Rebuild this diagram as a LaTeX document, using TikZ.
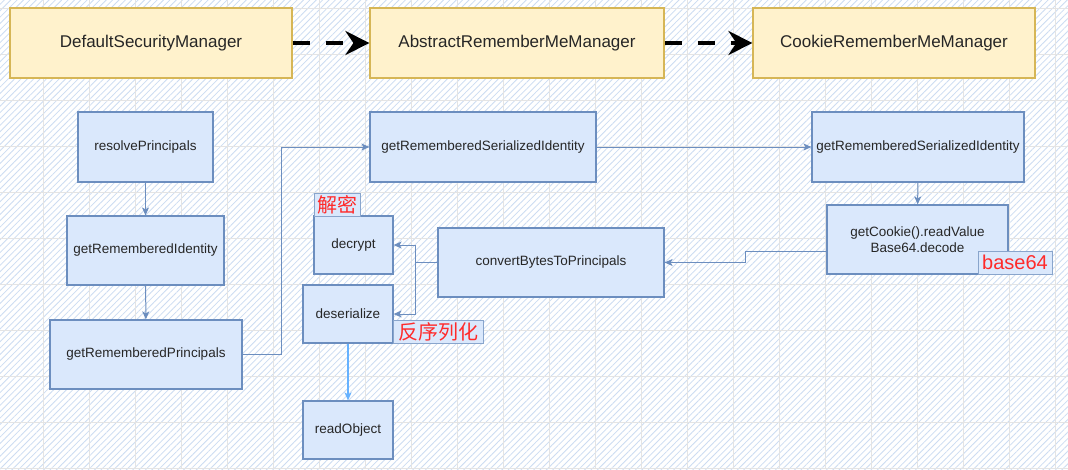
\documentclass[tikz,border=0pt]{standalone}
\usepackage{fontspec}
\setmainfont{Liberation Sans}
\newfontfamily\cjk{Noto Sans CJK SC}
\usetikzlibrary{arrows.meta,patterns.meta}

\definecolor{yellowfill}{HTML}{FFF2CC}
\definecolor{yellowdraw}{HTML}{D6B656}
\definecolor{bluefill}{HTML}{DAE8FC}
\definecolor{bluedraw}{HTML}{6C8EBF}
\definecolor{lightarrow}{HTML}{66B2FF}
\definecolor{notered}{HTML}{FF2A2A}
\definecolor{gridline}{HTML}{E4E4E4}
\definecolor{hatch}{HTML}{CCDCF2}

\tikzstyle{manager} = [draw=yellowdraw,fill=yellowfill,line width=1.2pt,inner sep=0pt,text=black!85,font=\fontsize{17}{20}\selectfont]
\tikzstyle{method} = [draw=bluedraw,fill=bluefill,line width=1.2pt,inner sep=0pt,align=center,text=black!85,font=\fontsize{13.5}{16.5}\selectfont]
\tikzstyle{note} = [draw=bluedraw!80,fill=bluefill,line width=0.8pt,inner sep=0pt,text=notered,font=\fontsize{20}{22}\selectfont]
\tikzstyle{inherit} = [draw,line width=4pt,dash pattern=on 17pt off 16pt,-{Stealth[length=24pt,width=24pt,inset=8pt]}]
\tikzstyle{call} = [draw=bluedraw,line width=1pt,-{Stealth[length=8pt,width=7pt,inset=2pt]}]
\tikzstyle{lightcall} = [draw=lightarrow,line width=1.2pt,-{Stealth[length=8pt,width=7pt,inset=2pt]}]

\begin{document}
\begin{tikzpicture}[x=1pt,y=-1pt]
      \useasboundingbox (0,0) rectangle (1068,469);
      %background
      \fill[white] (0,0) rectangle (1068,469);
      \fill[pattern={Lines[angle=45,distance=4.5pt,line width=0.8pt]},pattern color=hatch] (0,0) rectangle (1068,469);
      \foreach \gx in {43,89,...,1068}
        \draw[gridline] (\gx,0) -- (\gx,469);
      \foreach \gy in {8,54,...,469}
        \draw[gridline] (0,\gy) -- (1068,\gy);
      %managers
      \foreach \nodename/\x/\y/\w/\text in {
        dsm/151/43/282/DefaultSecurityManager,
        arm/517/43/294/AbstractRememberMeManager,
        crm/894/43/282/CookieRememberMeManager}
      {
        \node[manager, minimum width=\w pt, minimum height=70pt] (\nodename) at (\x,\y) {\text};
      };
      %methods
      \foreach \nodename/\x/\y/\w/\h/\text in {
        resolve/145.5/147/135/70/resolvePrincipals,
        getid/145.5/250.5/157/69/getRememberedIdentity,
        getprin/146/354.5/192/69/getRememberedPrincipals,
        sermid/483/147/226/70/getRememberedSerializedIdentity,
        serright/918/147/212/70/getRememberedSerializedIdentity,
        cookie/917.5/239.5/181/69/{getCookie().readValue\\Base64.decode},
        convert/551/262.5/226/69/convertBytesToPrincipals,
        decrypt/353.5/245/79/58/decrypt,
        deser/348/314/90/58/deserialize,
        readobj/348/430/90/58/readObject}
      {
        \node[method, minimum width=\w pt, minimum height=\h pt] (\nodename) at (\x,\y) {\text};
      };
      %notes
      \node[note, minimum width=46pt, minimum height=23pt] (jiemi) at (337,204.5) {\cjk 解密};
      \node[note, minimum width=90pt, minimum height=23pt] (fxlh) at (438,331.5) {\cjk 反序列化};
      \node[note, minimum width=74pt, minimum height=23pt] (b64) at (1015,262.5) {base64};
      %edges
      \path[inherit] (dsm) -- (arm);
      \path[inherit] (arm) -- (crm);
      \path[call] (resolve) -- (getid);
      \path[call] (getid) -- (getprin);
      \path[call] (getprin.east) -- ++(39,0) |- (sermid.west);
      \path[call] (sermid) -- (serright);
      \path[call] (serright) -- (cookie);
      \path[call] ([yshift=-11.5pt]cookie.west) -- ++(-81,0) |- (convert.east);
      \path[call] (convert.west) -- ++(-22,0) coordinate (split) |- (decrypt.east);
      \path[call] (split) |- (deser.east);
      \path[lightcall] (deser) -- (readobj);
    \end{tikzpicture}
\end{document}
